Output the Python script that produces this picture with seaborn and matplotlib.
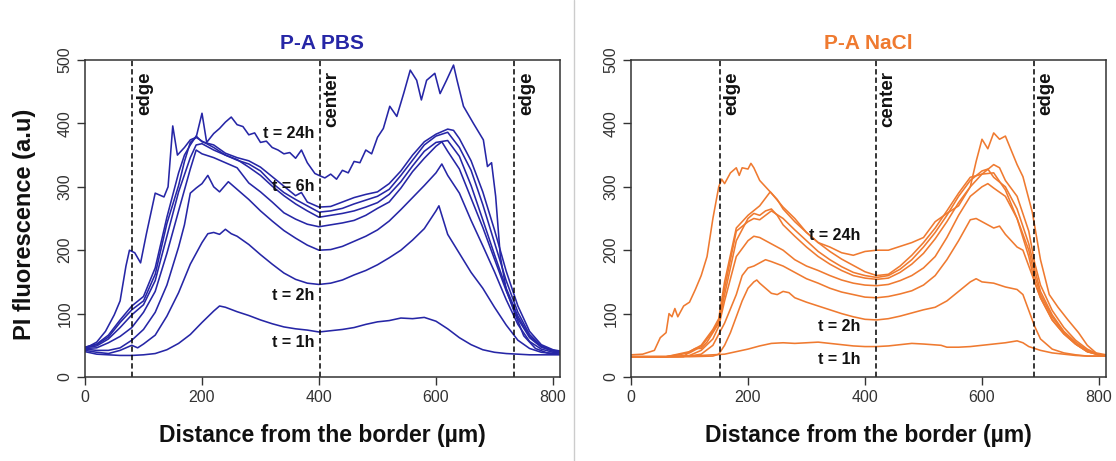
import numpy as np
import pandas as pd
import matplotlib
matplotlib.use("Agg")
import matplotlib.pyplot as plt
from matplotlib.lines import Line2D
import seaborn as sns

# PI fluorescence profiles (distance um, a.u.)
pbs_1h = [(0,40),(20,36),(40,35),(60,34),(80,34),(100,35),(120,37),(140,43),(160,53),(180,67),(200,86),(220,104),(230,112),(240,110),(260,103),(280,97),(300,90),(320,84),(340,79),(360,76),(380,74),(400,71),(420,73),(440,75),(460,78),(480,83),(500,87),(520,89),(540,93),(560,92),(580,94),(600,88),(620,76),(640,62),(660,51),(680,43),(700,39),(720,37),(740,36),(760,35),(780,35),(800,35),(812,35)]
pbs_2h = [(0,42),(20,39),(40,37),(60,42),(80,50),(90,46),(100,52),(120,66),(140,96),(160,133),(180,178),(200,212),(210,226),(220,228),(230,225),(240,233),(250,226),(260,222),(280,209),(300,193),(320,178),(340,164),(360,154),(380,148),(400,146),(420,148),(440,153),(460,161),(480,168),(500,177),(520,188),(540,200),(560,216),(580,234),(600,262),(605,270),(620,225),(640,195),(660,165),(680,140),(700,110),(720,82),(740,58),(760,45),(780,39),(800,37),(812,36)]
pbs_4h = [(0,44),(20,42),(40,42),(60,46),(80,58),(100,75),(120,102),(140,145),(160,205),(170,240),(180,290),(190,298),(200,305),(210,318),(220,300),(230,292),(245,308),(260,296),(280,280),(300,262),(320,246),(340,231),(360,219),(380,208),(400,200),(420,201),(440,206),(460,214),(480,222),(500,232),(520,246),(540,264),(560,283),(580,302),(600,322),(610,336),(620,318),(640,290),(660,247),(680,207),(700,166),(720,122),(740,83),(760,56),(780,44),(800,39),(812,38)]
pbs_6h = [(0,45),(20,46),(40,54),(60,64),(80,78),(100,102),(120,135),(140,195),(160,262),(180,328),(190,358),(200,352),(220,346),(240,338),(260,330),(280,306),(300,292),(320,276),(340,259),(360,249),(380,241),(400,237),(420,240),(440,243),(460,247),(480,255),(500,266),(520,276),(540,298),(560,324),(580,345),(600,364),(610,371),(620,356),(640,328),(660,282),(680,236),(700,186),(720,136),(740,92),(760,62),(780,47),(800,41),(812,40)]
pbs_8h = [(0,46),(20,49),(40,60),(60,78),(80,98),(100,114),(120,152),(140,222),(160,292),(180,346),(190,366),(200,368),(220,358),(240,350),(260,343),(280,331),(300,318),(320,301),(340,286),(360,273),(380,262),(400,252),(420,255),(440,258),(460,262),(480,268),(500,275),(520,288),(540,308),(560,333),(580,356),(600,370),(620,373),(640,348),(660,302),(680,248),(700,193),(720,140),(740,96),(760,64),(780,48),(800,41),(812,40)]
pbs_10h = [(0,47),(20,51),(40,63),(60,86),(80,106),(100,120),(120,162),(140,242),(160,302),(170,340),(180,370),(190,378),(200,372),(220,362),(240,350),(260,342),(280,336),(300,325),(320,306),(340,291),(360,280),(380,270),(400,260),(420,262),(440,266),(460,273),(480,279),(500,285),(520,296),(540,318),(560,342),(580,366),(600,380),(620,386),(640,362),(660,326),(680,272),(700,212),(720,152),(740,102),(760,67),(780,49),(800,42),(812,40)]
pbs_12h = [(0,47),(20,52),(40,66),(60,90),(80,112),(100,127),(120,172),(140,252),(160,322),(170,350),(180,366),(190,380),(200,371),(220,366),(240,353),(260,346),(280,341),(300,331),(320,316),(340,301),(360,286),(370,291),(380,276),(400,268),(420,269),(440,276),(460,283),(480,288),(500,292),(520,305),(540,325),(560,350),(580,371),(600,383),(620,391),(630,389),(640,376),(660,341),(680,292),(700,232),(720,167),(740,112),(760,72),(780,51),(800,43),(812,41)]
pbs_24h = [(0,45),(20,55),(35,72),(50,98),(60,120),(70,175),(76,200),(85,196),(95,180),(105,226),(120,290),(135,284),(142,300),(150,396),(158,350),(170,362),(180,374),(190,378),(200,416),(208,370),(220,384),(230,392),(240,402),(250,410),(260,398),(270,395),(280,382),(290,385),(300,370),(310,372),(320,362),(330,358),(340,352),(350,354),(360,345),(370,358),(380,338),(393,321),(400,318),(410,314),(420,320),(430,312),(440,326),(450,322),(460,340),(470,338),(480,358),(490,352),(500,378),(510,392),(521,427),(533,411),(545,448),(556,484),(567,468),(575,437),(584,468),(598,479),(607,447),(618,468),(630,492),(636,468),(647,427),(664,400),(681,374),(688,332),(695,338),(702,285),(710,190),(720,138),(734,102),(750,65),(770,45),(790,38),(812,36)]

nacl_1h = [(0,32),(40,32),(80,32),(100,33),(120,34),(140,35),(160,36),(180,40),(200,44),(220,49),(240,53),(260,54),(280,53),(300,54),(320,55),(340,53),(360,51),(380,49),(400,48),(420,48),(440,49),(460,51),(480,53),(500,52),(530,50),(540,47),(560,47),(580,48),(600,50),(620,52),(640,54),(660,57),(670,54),(680,48),(700,42),(720,38),(740,36),(760,34),(780,33),(812,33)]
nacl_2h = [(0,32),(60,32),(100,32),(140,33),(150,36),(160,50),(170,70),(180,95),(190,120),(200,140),(210,150),(215,153),(220,148),(230,140),(240,132),(250,130),(260,135),(270,133),(280,125),(300,118),(320,112),(340,106),(360,100),(380,95),(400,91),(420,90),(440,92),(460,96),(480,101),(500,106),(520,110),(540,120),(560,135),(580,150),(590,155),(600,150),(620,148),(640,142),(660,138),(670,130),(680,105),(690,80),(700,60),(720,44),(740,38),(760,35),(780,33),(812,33)]
nacl_4h = [(0,32),(60,32),(100,33),(120,36),(140,50),(160,85),(180,130),(190,160),(200,172),(210,175),(220,180),(230,185),(240,182),(260,175),(280,165),(300,155),(320,148),(340,140),(360,134),(380,130),(400,126),(420,125),(440,127),(460,131),(480,136),(500,145),(520,160),(540,185),(560,215),(580,248),(590,250),(600,245),(620,235),(630,238),(640,225),(660,205),(670,200),(680,175),(690,150),(700,125),(720,90),(740,68),(760,52),(780,40),(800,35),(812,34)]
nacl_6h = [(0,32),(60,32),(100,34),(120,42),(140,60),(150,80),(160,120),(180,190),(200,215),(210,222),(220,220),(240,210),(260,200),(280,185),(300,175),(320,168),(340,160),(360,153),(380,148),(400,145),(420,144),(440,146),(460,152),(480,160),(500,172),(520,190),(540,220),(560,255),(580,285),(600,300),(610,305),(620,298),(640,285),(660,250),(680,200),(690,160),(700,130),(720,95),(740,70),(760,52),(780,40),(800,35),(812,34)]
nacl_8h = [(0,32),(60,32),(90,32),(100,40),(110,45),(120,45),(130,55),(140,70),(150,85),(160,130),(180,215),(200,250),(210,258),(220,255),(230,262),(240,265),(250,255),(260,240),(280,222),(300,205),(320,190),(340,178),(360,168),(380,160),(400,156),(420,154),(440,156),(460,165),(480,178),(500,195),(520,218),(540,245),(560,275),(580,300),(600,320),(620,322),(640,295),(660,250),(680,190),(690,150),(700,125),(720,90),(740,68),(760,52),(780,40),(800,35),(812,34)]
nacl_10h = [(0,32),(60,32),(100,38),(120,48),(140,72),(150,88),(160,140),(180,230),(200,245),(210,250),(220,248),(240,262),(260,250),(280,232),(300,215),(320,198),(340,185),(360,174),(380,165),(400,160),(420,157),(440,160),(460,170),(480,185),(500,205),(520,228),(540,255),(560,285),(580,310),(600,325),(610,328),(620,315),(640,300),(660,265),(680,210),(690,170),(700,135),(720,98),(740,72),(760,55),(780,42),(800,35),(812,34)]
nacl_12h = [(0,32),(60,32),(100,40),(120,50),(140,75),(150,92),(160,150),(180,235),(200,255),(220,270),(238,292),(250,280),(260,265),(280,245),(300,228),(320,212),(340,198),(360,186),(380,176),(400,166),(420,160),(440,162),(460,175),(480,192),(500,212),(520,235),(540,262),(560,290),(580,315),(600,320),(620,335),(630,330),(640,310),(660,285),(680,230),(690,180),(700,145),(720,105),(740,78),(760,58),(780,44),(800,35),(812,34)]
nacl_24h = [(0,35),(20,36),(40,42),(50,62),(60,70),(65,100),(70,95),(75,108),(80,95),(90,112),(100,118),(110,138),(120,160),(130,190),(140,250),(150,300),(155,312),(160,305),(170,322),(180,330),(185,318),(190,330),(200,328),(205,337),(210,330),(220,310),(240,290),(260,268),(280,250),(300,228),(320,212),(340,205),(360,196),(380,192),(400,198),(420,200),(440,200),(460,206),(480,212),(500,220),(520,245),(540,258),(560,270),(580,300),(590,340),(600,375),(610,360),(620,385),(630,375),(640,380),(660,335),(670,316),(686,260),(700,185),(715,130),(730,110),(747,90),(765,70),(780,50),(795,38),(812,35)]

pbs_curves = {"1h": pbs_1h, "2h": pbs_2h, "4h": pbs_4h, "6h": pbs_6h, "8h": pbs_8h,
              "10h": pbs_10h, "12h": pbs_12h, "24h": pbs_24h}
nacl_curves = {"1h": nacl_1h, "2h": nacl_2h, "4h": nacl_4h, "6h": nacl_6h, "8h": nacl_8h,
               "10h": nacl_10h, "12h": nacl_12h, "24h": nacl_24h}

pbs_marks = [81, 402, 734]
nacl_marks = [152, 419, 689]
mark_names = ["edge", "center", "edge"]
pbs_time_labels = [("t = 24h", 384), ("t = 6h", 300), ("t = 2h", 129), ("t = 1h", 54)]
nacl_time_labels = [("t = 24h", 223), ("t = 2h", 80), ("t = 1h", 28)]

blue = "#2626a6"
orange = "#ef7a30"

sns.set_theme(style="white")
plt.rcParams["font.family"] = ["Liberation Sans", "DejaVu Sans"]


def to_frame(curves):
    rows = [(d, v, name) for name, pts in curves.items() for d, v in pts]
    return pd.DataFrame(rows, columns=["distance", "value", "curve"])


fig = plt.figure(figsize=(11.16, 4.61), dpi=100)
W, H = 1116, 461
ax1 = fig.add_axes([85 / W, 1 - 377 / H, 475 / W, 317 / H])
ax2 = fig.add_axes([631 / W, 1 - 377 / H, 475 / W, 317 / H])

panels = [(ax1, pbs_curves, blue, "P-A PBS", pbs_marks, pbs_time_labels),
          (ax2, nacl_curves, orange, "P-A NaCl", nacl_marks, nacl_time_labels)]

for ax, curves, col, title, marks, tlabels in panels:
    df = to_frame(curves)
    sns.lineplot(data=df, x="distance", y="value", units="curve", estimator=None,
                 sort=False, color=col, lw=1.15, ax=ax, legend=False)
    for m, name in zip(marks, mark_names):
        ax.axvline(m, color="black", lw=1.1, ls=(0, (3.5, 2)))
        ax.text(m + 6, 482, name, rotation=90, ha="left", va="top",
                fontsize=13.5, fontweight="bold", color="#111111")
    for txt, yv in tlabels:
        ax.text(392, yv, txt, ha="right", va="center", fontsize=11.5,
                fontweight="bold", color="#111111")
    ax.set_xlim(0, 812)
    ax.set_ylim(0, 500)
    ax.set_xticks([0, 200, 400, 600, 800])
    ax.set_yticks([0, 100, 200, 300, 400, 500])
    ax.tick_params(axis="both", direction="out", length=6, width=1, color="#333333",
                   labelsize=11.5, labelcolor="#333333", bottom=True, left=True, pad=3)
    for lab in ax.get_yticklabels():
        lab.set_rotation(90)
        lab.set_va("center")
    for sp in ax.spines.values():
        sp.set_color("#333333")
        sp.set_linewidth(1.1)
    ax.set_title(title, color=col, fontsize=15, fontweight="bold", pad=8)
    ax.set_xlabel("Distance from the border (µm)", fontsize=16.5, fontweight="bold",
                  color="#111111")
    ax.xaxis.set_label_coords(0.5, -(435 - 377) / 317)
    ax.xaxis.label.set_va("center")
    ax.set_ylabel("")

ax1.set_ylabel("PI fluorescence (a.u)", fontsize=17, fontweight="bold", color="#111111")
ax1.yaxis.set_label_coords((25 - 85) / 475, 0.48)
ax1.yaxis.label.set_va("center")

fig.add_artist(Line2D([574 / W, 574 / W], [0, 1], color="#cccccc", lw=1))

fig.savefig("out.png", dpi=100)
